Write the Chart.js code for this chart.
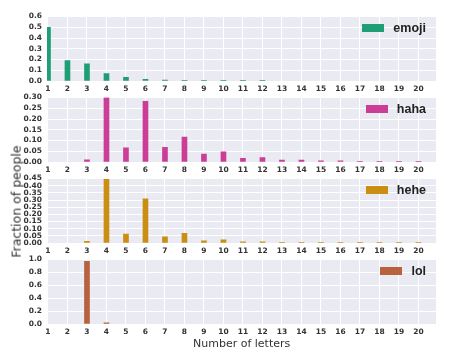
<!DOCTYPE html>
<html>
<head>
<meta charset="utf-8">
<script src="https://cdn.jsdelivr.net/npm/chart.js@4.4.1/dist/chart.umd.min.js"></script>
<style>
  body { margin: 0; background: #fff; width: 460px; height: 359px; overflow: hidden; position: relative; font-family: "DejaVu Sans", sans-serif; }
  canvas { position: absolute; left: 0; }
  .legend { position: absolute; right: 34px; display: flex; align-items: center; font-family: "Liberation Sans", Arial, sans-serif; font-weight: bold; font-size: 12.5px; color: #222; transform: translateY(-50%); }
  .legend span.box { display: inline-block; width: 22px; height: 8px; margin-right: 9px; }
  .title { position: absolute; color: #333; white-space: nowrap; }
</style>
</head>
<body>
<canvas id="c0" width="460" height="88"></canvas>
<canvas id="c1" width="460" height="88"></canvas>
<canvas id="c2" width="460" height="88"></canvas>
<canvas id="c3" width="460" height="88"></canvas>
<div class="title" id="xtitle" style="font-size:11px">Number of letters</div>
<div class="title" id="ytitle" style="font-size:12.5px">Fraction of people</div>
<script>
// letras en el eje X
const letters = [1, 2, 3, 4, 5, 6, 7, 8, 9, 10, 11, 12, 13, 14, 15, 16, 17, 18, 19, 20];

// fracción de personas por número de letras
const emoji = [0.50, 0.19, 0.16, 0.07, 0.035, 0.015, 0.008, 0.004, 0.003, 0.003, 0.003, 0.003, 0, 0, 0, 0, 0, 0, 0, 0];
const haha = [0, 0, 0.01, 0.30, 0.066, 0.282, 0.068, 0.116, 0.037, 0.047, 0.017, 0.021, 0.009, 0.009, 0.005, 0.005, 0.002, 0.002, 0.002, 0.002];
const hehe = [0, 0, 0.012, 0.445, 0.062, 0.308, 0.043, 0.067, 0.016, 0.022, 0.008, 0.008, 0.003, 0.003, 0.003, 0.003, 0.003, 0.003, 0.003, 0.003];
const lol = [0, 0, 0.97, 0.02, 0, 0, 0, 0, 0, 0, 0, 0, 0, 0, 0, 0, 0, 0, 0, 0];

const labels = ['emoji', 'haha', 'hehe', 'lol'];
const series = [emoji, haha, hehe, lol];
const colors = ['#1f9e75', '#cc3d98', '#c98e12', '#b9603f'];
const yMax = [0.6, 0.30, 0.45, 1.0];
const yStep = [0.1, 0.05, 0.05, 0.2];
const yDecimals = [1, 2, 2, 1];
const plotTops = [14, 95, 176, 257];

// fondo gris del área del gráfico
const bgPlugin = {
    id: 'bg',
    beforeDraw(chart) {
        const a = chart.chartArea;
        chart.ctx.save();
        chart.ctx.fillStyle = '#eaeaf2';
        chart.ctx.fillRect(a.left, a.top, a.right - a.left, a.bottom - a.top);
        chart.ctx.restore();
    }
};

const tickFont = { family: 'DejaVu Sans', size: 7.5, weight: 'bold' };

series.forEach((vals, i) => {
    const canvas = document.getElementById('c' + i);
    canvas.style.top = (plotTops[i] - 7) + 'px';

    new Chart(canvas.getContext('2d'), {
        type: 'bar',
        data: {
            datasets: [{
                label: labels[i],
                // los ceros no se dibujan
                data: letters.map((l, j) => ({ x: l, y: vals[j] > 0 ? vals[j] : null })),
                backgroundColor: colors[i],
                barThickness: 5
            }]
        },
        options: {
            responsive: false,
            animation: false,
            layout: { padding: { top: 7, right: 24, left: 0, bottom: 0 } },
            plugins: { legend: { display: false }, tooltip: { enabled: false } },
            scales: {
                x: {
                    type: 'linear',
                    min: 0.95,
                    max: 20.9,
                    offset: false,
                    afterBuildTicks: axis => { axis.ticks = letters.map(v => ({ value: v })); },
                    afterFit: axis => { axis.height = 14; },
                    grid: { color: '#ffffff', lineWidth: 1, drawTicks: false, offset: false },
                    border: { display: false },
                    ticks: { font: tickFont, color: '#333', padding: 4, maxRotation: 0, autoSkip: false }
                },
                y: {
                    min: 0,
                    max: yMax[i],
                    afterFit: axis => { axis.width = 47; },
                    grid: { color: '#ffffff', lineWidth: 1, drawTicks: false },
                    border: { display: false },
                    ticks: {
                        stepSize: yStep[i],
                        autoSkip: false,
                        font: tickFont,
                        color: '#333',
                        padding: 5,
                        callback: v => Number(v).toFixed(yDecimals[i])
                    }
                }
            }
        },
        plugins: [bgPlugin]
    });

    // leyenda dentro del área, arriba a la derecha
    const leg = document.createElement('div');
    leg.className = 'legend';
    leg.style.top = (plotTops[i] + 14) + 'px';
    leg.innerHTML = '<span class="box" style="background:' + colors[i] + '"></span>' + labels[i];
    document.body.appendChild(leg);
});

// títulos de los ejes
const xt = document.getElementById('xtitle');
xt.style.left = (241.5 - xt.offsetWidth / 2) + 'px';
xt.style.top = (343 - xt.offsetHeight / 2) + 'px';

const yt = document.getElementById('ytitle');
yt.style.left = (16 - yt.offsetWidth / 2) + 'px';
yt.style.top = (201 - yt.offsetHeight / 2) + 'px';
yt.style.transform = 'rotate(-90deg)';
</script>
</body>
</html>
